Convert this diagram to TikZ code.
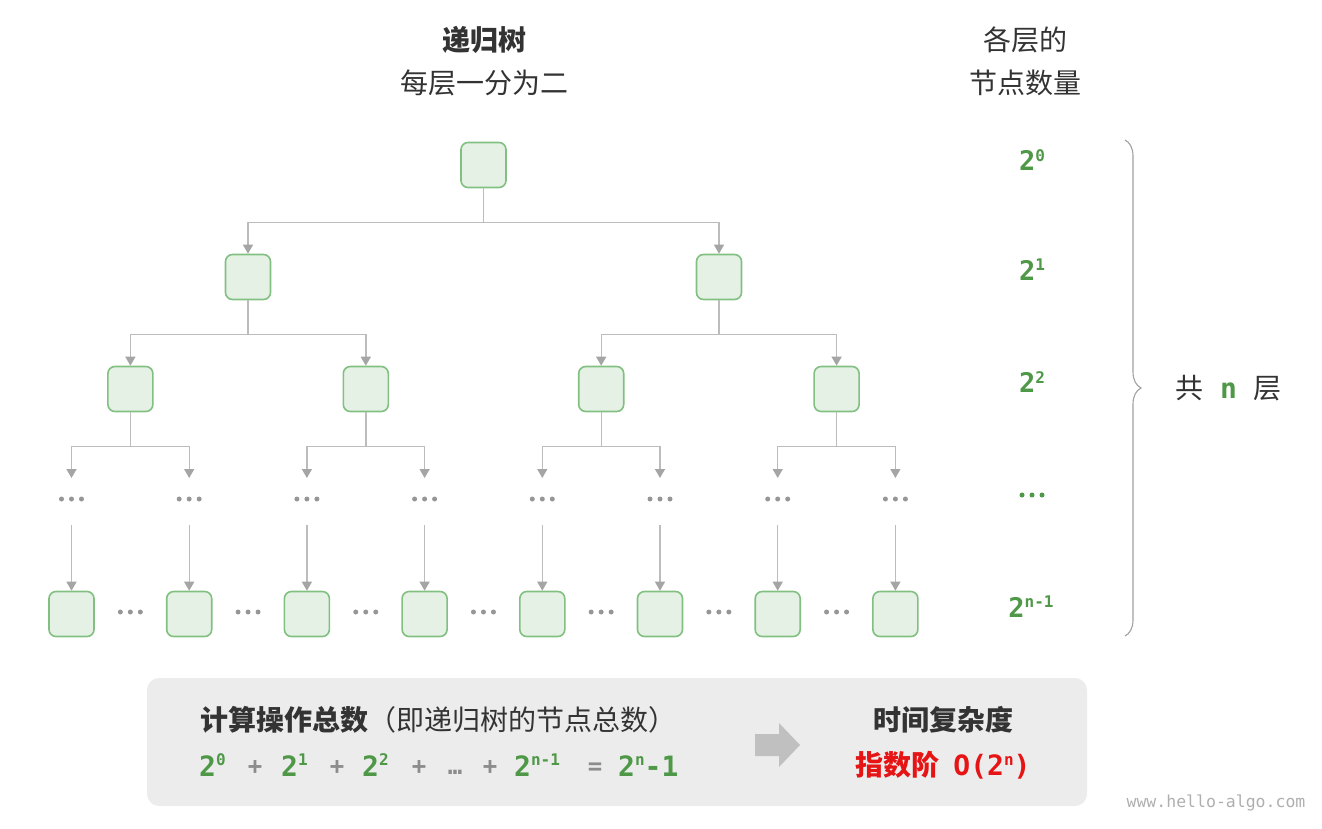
\documentclass[tikz,border=0pt]{standalone}
\usepackage{fontspec}
\setmainfont{Noto Sans CJK SC}
\newfontfamily\monof{DejaVu Sans Mono}
\usetikzlibrary{arrows.meta,decorations.pathreplacing,calc}
\definecolor{boxfill}{RGB}{228,241,228}
\definecolor{boxline}{RGB}{130,192,130}
\definecolor{conncol}{RGB}{188,188,188}
\definecolor{tipcol}{RGB}{165,165,165}
\definecolor{dotcol}{RGB}{150,150,150}
\definecolor{numgreen}{RGB}{78,152,72}
\definecolor{txtdark}{RGB}{51,51,51}
\definecolor{sumfill}{RGB}{236,236,236}
\definecolor{bigarrow}{RGB}{192,192,192}
\definecolor{wmcol}{RGB}{175,175,175}
\definecolor{bracecol}{RGB}{160,160,160}
\definecolor{redtxt}{RGB}{230,20,20}
\definecolor{optgray}{RGB}{140,140,140}
\newcommand{\upx}[1]{\raisebox{0.36em}{\fontsize{16}{16}\selectfont #1}}
\newcommand{\threedots}{\tikz[baseline=-2.5pt]{\foreach \i in {0,1,2}{\fill[dotcol] (\i*10pt,0) circle (2.5pt);}}}
\begin{document}
\begin{tikzpicture}[x=1pt,y=-1pt,
  treebox/.style={rectangle,rounded corners=7pt,minimum width=45pt,minimum height=45pt,draw=boxline,line width=1.6pt,fill=boxfill,inner sep=0pt},
  conn/.style={draw=conncol,line width=1.4pt,-{Triangle[length=9pt,width=10pt,color=tipcol]}},
  dotsnode/.style={inner sep=0pt,minimum size=10pt},
  cjk/.style={font=\fontsize{28}{30}\selectfont,text=txtdark,inner sep=0pt},
  cjkb/.style={font=\fontsize{28}{30}\selectfont\bfseries,text=txtdark,inner sep=0pt},
  lvl/.style={font=\monof\bfseries\fontsize{27}{27}\selectfont,text=numgreen,inner sep=0pt},
  fnum/.style={font=\monof\bfseries\fontsize{28}{28}\selectfont,text=numgreen,inner sep=0pt,anchor=base west},
  fop/.style={font=\monof\bfseries\fontsize{24}{24}\selectfont,text=optgray,inner sep=0pt,anchor=base},
]
\useasboundingbox (0,0) rectangle (1322,828);
% headers
\node[cjkb] (h1) at (484,40) {递归树};
\node[cjk] (h2) at (484,83) {每层一分为二};
\node[cjk] (h3) at (1025,40) {各层的};
\node[cjk] (h4) at (1025,83) {节点数量};
% tree
\node[treebox] (r) at (483.5,165) {};
\node[treebox] (a0) at (248,277) {};
\node[treebox] (a1) at (719,277) {};
\node[treebox] (b0) at (130.4,389) {};
\node[treebox] (b1) at (365.8,389) {};
\node[treebox] (b2) at (601.2,389) {};
\node[treebox] (b3) at (836.6,389) {};
\foreach \k in {0,...,7}{
  \pgfmathsetmacro{\xx}{71.5+117.7*\k}
  \node[dotsnode] (d\k) at (\xx,499) {\threedots};
  \node[treebox] (l\k) at (\xx,614) {};
}
\foreach \k in {0,...,6}{
  \pgfmathsetmacro{\xx}{71.5+117.7*\k+58.85}
  \node[dotsnode] (m\k) at (\xx,612) {\threedots};
}
\draw[conn] (r.south) -- ++(0,34) -| (a0.north);
\draw[conn] (r.south) -- ++(0,34) -| (a1.north);
\draw[conn] (a0.south) -- ++(0,34) -| (b0.north);
\draw[conn] (a0.south) -- ++(0,34) -| (b1.north);
\draw[conn] (a1.south) -- ++(0,34) -| (b2.north);
\draw[conn] (a1.south) -- ++(0,34) -| (b3.north);
\foreach \p/\c/\e in {b0/d0/d1,b1/d2/d3,b2/d4/d5,b3/d6/d7}{
  \draw[conn] (\p.south) -- ++(0,34) -| ([yshift=21pt]\c.center);
  \draw[conn] (\p.south) -- ++(0,34) -| ([yshift=21pt]\e.center);
}
\foreach \k in {0,...,7}{
  \draw[conn] ([yshift=-26pt]d\k.center) -- (l\k.north);
}
% level counts
\node[lvl] (c0) at (1032,160) {2\upx{0}};
\node[lvl] (c1) at (1032,270) {2\upx{1}};
\node[lvl] (c2) at (1032,382) {2\upx{2}};
\node[dotsnode] (c3) at (1032,495) {\tikz[baseline=-2.5pt]{\foreach \i in {0,1,2}{\fill[numgreen] (\i*10pt,0) circle (2.5pt);}}};
\node[lvl] (c4) at (1031,607) {2\upx{n-1}};
% brace
\coordinate (bt) at (1125,140);
\coordinate (bb) at (1125,636);
\draw[decorate,decoration={brace,amplitude=16pt},draw=bracecol,line width=1.1pt] (bt) -- (bb);
\node[cjk,anchor=west] (tot) at (1175,388) {共\hspace{0.6em}{\monof\bfseries\color{numgreen}n}\hspace{0.6em}层};
% summary box
\fill[sumfill,rounded corners=12pt] (147,678) rectangle (1087,806);
\node[cjk,anchor=west] (s1) at (200,720) {\textbf{计算操作总数}（即递归树的节点总数）};
\node[fnum] (f0) at (199,776) {2\upx{0}};
\node[fop] (o0) at (255,774) {+};
\node[fnum] (f1) at (281,776) {2\upx{1}};
\node[fop] (o1) at (337,774) {+};
\node[fnum] (f2) at (362,776) {2\upx{2}};
\node[fop] (o2) at (419,774) {+};
\node[fop] (o3) at (455,774) {…};
\node[fop] (o4) at (490,774) {+};
\node[fnum] (f3) at (514,776) {2\upx{n-1}};
\node[fop] (o5) at (595,774) {=};
\node[fnum] (f4) at (618,776) {2\upx{n}-1};
% big arrow
\fill[bigarrow] (755,734) -- (779,734) -- (779,723) -- (800,745) -- (779,767) -- (779,756) -- (755,756) -- cycle;
\node[cjkb] (t1) at (943,720) {时间复杂度};
\node[cjkb,text=redtxt] (t2) at (943,765) {指数阶\hspace{0.5em}{\monof O(2\upx{n})}};
% watermark
\node[font=\monof\fontsize{16.5}{17}\selectfont,text=wmcol,inner sep=0pt] (wm) at (1216,803) {www.hello-algo.com};
\end{tikzpicture}
\end{document}
